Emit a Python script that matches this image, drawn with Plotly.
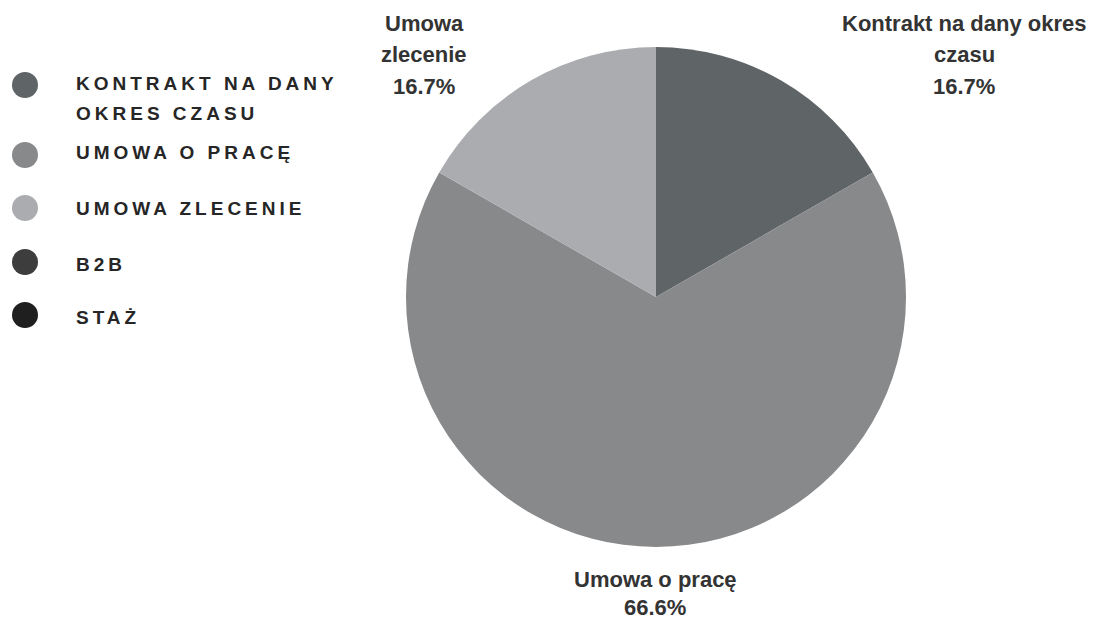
import plotly.graph_objects as go

# Contract types and their shares (%)
categories = ["Kontrakt na dany okres czasu", "Umowa o pracę", "Umowa zlecenie", "B2B", "Staż"]
shares = [16.7, 66.6, 16.7, 0, 0]
colors = ["#5f6467", "#87898b", "#abacaf", "#3d3d3d", "#1f1f1f"]

# Slice captions split into lines
caption_lines = {
    "Kontrakt na dany okres czasu": ["Kontrakt na dany okres", "czasu"],
    "Umowa o pracę": ["Umowa o pracę"],
    "Umowa zlecenie": ["Umowa", "zlecenie"],
}
# Legend text split into lines
legend_lines = {
    "Kontrakt na dany okres czasu": ["KONTRAKT NA DANY", "OKRES CZASU"],
    "Umowa o pracę": ["UMOWA O PRACĘ"],
    "Umowa zlecenie": ["UMOWA ZLECENIE"],
    "B2B": ["B2B"],
    "Staż": ["STAŻ"],
}

W, H = 1093, 621


def px(x):
    return x / W


def py(y):
    return 1 - y / H


# Pie geometry in pixels
cx, cy, r = 656, 297, 250

fig = go.Figure(
    go.Pie(
        labels=categories,
        values=shares,
        marker=dict(colors=colors, line=dict(width=0)),
        sort=False,
        direction="clockwise",
        rotation=0,
        textinfo="none",
        hoverinfo="skip",
        showlegend=False,
        domain=dict(x=[px(cx - r), px(cx + r)], y=[py(cy + r), py(cy - r)]),
    )
)

annotations = []
shapes = []

# Legend: circles with spaced uppercase text
legend_rows = [(85, [83.5, 113.5]), (155, [152.5]), (208, [209]), (262, [264]), (315, [317])]
for cat, col, (cyc, text_ys) in zip(categories, colors, legend_rows):
    rr = 13
    shapes.append(dict(
        type="circle", xref="paper", yref="paper",
        x0=px(25 - rr), x1=px(25 + rr), y0=py(cyc + rr), y1=py(cyc - rr),
        fillcolor=col, line=dict(width=0),
    ))
    for line, ty in zip(legend_lines[cat], text_ys):
        annotations.append(dict(
            text=line, x=px(74), y=py(ty), xref="paper", yref="paper",
            xanchor="left", yanchor="middle", align="left", showarrow=False,
            font=dict(family="Liberation Sans", size=19, color="#262626", weight="bold"),
        ))
n_legend = len(annotations)

# Slice captions with percentages
caption_pos = {
    "Kontrakt na dany okres czasu": (964, [24, 55, 86.5]),
    "Umowa o pracę": (655, [579, 607.5]),
    "Umowa zlecenie": (424, [24, 55, 86.5]),
}
total = sum(shares)
for cat, val in zip(categories, shares):
    if cat not in caption_pos:
        continue
    x, ys = caption_pos[cat]
    lines = caption_lines[cat] + [f"{val / total * 100:.1f}%"]
    for line, ty in zip(lines, ys):
        annotations.append(dict(
            text=line, x=px(x), y=py(ty), xref="paper", yref="paper",
            xanchor="center", yanchor="middle", showarrow=False,
            font=dict(family="Liberation Sans", size=22, color="#333333", weight="bold"),
        ))

fig.update_layout(
    width=W, height=H,
    margin=dict(l=0, r=0, t=0, b=0),
    paper_bgcolor="white", plot_bgcolor="white",
    annotations=annotations, shapes=shapes,
)

# Letter spacing for the legend labels
post = (
    "var gd = document.getElementById('{plot_id}');"
    "gd.querySelectorAll('g.annotation').forEach(function(g){"
    "var i = parseInt(g.getAttribute('data-index'));"
    "if (i < %d) { var t = g.querySelector('text'); if (t) { t.style.letterSpacing = '4px'; } }"
    "});" % n_legend
)
fig.write_html("out.html", post_script=post, config={"displayModeBar": False})
